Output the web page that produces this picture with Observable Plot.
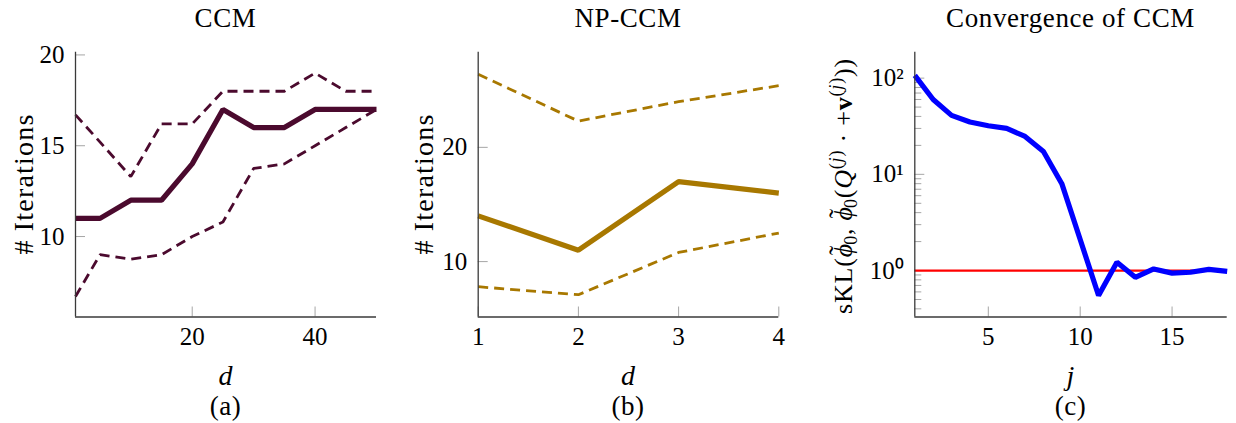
<!DOCTYPE html>
<html>
<head>
<meta charset="utf-8">
<script src="https://cdn.jsdelivr.net/npm/d3@7"></script>
<script src="https://cdn.jsdelivr.net/npm/@observablehq/plot@0.6"></script>
<style>
html, body { margin: 0; padding: 0; background: #fff; }
#wrap { position: relative; width: 1236px; height: 423px; overflow: hidden; font-family: "Liberation Serif", serif; }
#wrap svg { position: absolute; top: 0; }
</style>
</head>
<body>
<div id="wrap"></div>
<script>
// ---------- Panel (a): CCM ----------
const dA = [1, 5, 10, 15, 20, 25, 30, 35, 40, 45, 50];
const meanA = [11, 11, 12, 12, 14, 17, 16, 16, 17, 17, 17];
const upperA = [16.7, 15.2, 13.3, 16.2, 16.2, 18, 18, 18, 19, 18, 18];
const lowerA = [6.7, 9.0, 8.75, 9.0, 10, 10.8, 13.75, 14, 15, 16, 17];
const xTicksA = [20, 40];
const yTicksA = [10, 15, 20];

// ---------- Panel (b): NP-CCM ----------
const dB = [1, 2, 3, 4];
const meanB = [14, 11, 17, 16];
const upperB = [26.4, 22.3, 24, 25.4];
const lowerB = [7.8, 7.1, 10.8, 12.5];
const xTicksB = [1, 2, 3, 4];
const yTicksB = [10, 20];

// ---------- Panel (c): Convergence of CCM ----------
const jC = [1, 2, 3, 4, 5, 6, 7, 8, 9, 10, 11, 12, 13, 14, 15, 16, 17, 18];
const sklC = [107, 60, 41, 35, 32, 30, 24.8, 17.3, 8, 2.1, 0.55, 1.22, 0.85, 1.04, 0.94, 0.96, 1.03, 0.98];
const thresholdC = [1];
const xTicksC = [5, 10, 15];
const yTicksC = [1, 10, 100];
const yMinorC = [0.4, 0.5, 0.6, 0.7, 0.8, 0.9, 2, 3, 4, 5, 6, 7, 8, 9, 20, 30, 40, 50, 60, 70, 80, 90];

const titles = ["CCM", "NP-CCM", "Convergence of CCM"];
const xLabels = ["d", "d", "j"];
const captions = ["(a)", "(b)", "(c)"];

const colA = "#4b0a2e";
const colB = "#a87800";

const H = 423, TOP = 51.7, BOTTOM = 316.5;
const wrap = document.getElementById("wrap");

function makePanel(cfg) {
  const {left, width, mL, mR, xDomain, yDomain, yType = "linear", xTicks, yTicks, yFormat, minor, lines} = cfg;
  const marks = [
    Plot.axisX(xTicks, {anchor: "bottom", tickSize: 10, dy: -10, fill: "none", stroke: "#a6a6a6", label: null}),
    Plot.axisX(xTicks, {anchor: "bottom", tickSize: 0, tickPadding: 10, stroke: "none", fill: "#000", tickFormat: d => String(d), label: null}),
    Plot.axisY(yTicks, {anchor: "left", tickSize: 10, dx: 10, fill: "none", stroke: "#a6a6a6", label: null}),
  ];
  if (minor) marks.push(Plot.axisY(minor, {anchor: "left", tickSize: 7, dx: 7, fill: "none", stroke: "#a6a6a6", label: null}));
  marks.push(Plot.axisY(yTicks, {anchor: "left", tickSize: 0, tickPadding: 11, stroke: "none", fill: "#000", tickFormat: yFormat, label: null}));
  marks.push(...lines);
  marks.push(Plot.ruleX([xDomain[0]], {stroke: "#3a3a3a", strokeWidth: 1.3}));
  marks.push(Plot.ruleY([yDomain[0]], {stroke: "#3a3a3a", strokeWidth: 1.3}));
  const svg = Plot.plot({
    width, height: H,
    marginLeft: mL, marginRight: mR, marginTop: TOP, marginBottom: H - BOTTOM,
    x: {domain: xDomain, label: null},
    y: {domain: yDomain, type: yType, label: null},
    style: {fontFamily: "'Liberation Serif', serif", fontSize: "25px", color: "#000", background: "transparent", overflow: "visible"},
    marks
  });
  svg.style.left = left + "px";
  wrap.appendChild(svg);
}

const lineOpts = {strokeLinejoin: "miter", strokeLinecap: "butt"};

makePanel({
  left: 0, width: 400, mL: 75, mR: 24,
  xDomain: [1, 50], yDomain: [5.57, 20.15],
  xTicks: xTicksA, yTicks: yTicksA, yFormat: d => String(d),
  lines: [
    Plot.line(dA, {x: dA, y: upperA, stroke: colA, strokeWidth: 2.8, strokeDasharray: "10,6", ...lineOpts}),
    Plot.line(dA, {x: dA, y: lowerA, stroke: colA, strokeWidth: 2.8, strokeDasharray: "10,6", ...lineOpts}),
    Plot.line(dA, {x: dA, y: meanA, stroke: colA, strokeWidth: 5.2, ...lineOpts})
  ]
});

makePanel({
  left: 400, width: 420, mL: 77.7, mR: 41.7,
  xDomain: [1, 4], yDomain: [5.15, 28.33],
  xTicks: xTicksB, yTicks: yTicksB, yFormat: d => String(d),
  lines: [
    Plot.line(dB, {x: dB, y: upperB, stroke: colB, strokeWidth: 2.8, strokeDasharray: "10,6", ...lineOpts}),
    Plot.line(dB, {x: dB, y: lowerB, stroke: colB, strokeWidth: 2.8, strokeDasharray: "10,6", ...lineOpts}),
    Plot.line(dB, {x: dB, y: meanB, stroke: colB, strokeWidth: 5.2, ...lineOpts})
  ]
});

const sup = {"0": "\u2070", "1": "\u00B9", "2": "\u00B2"};
makePanel({
  left: 820, width: 416, mL: 94.3, mR: 9.3,
  xDomain: [1, 18], yDomain: [0.329, 186], yType: "log",
  xTicks: xTicksC, yTicks: yTicksC, minor: yMinorC,
  yFormat: d => "10" + sup[String(Math.round(Math.log10(d)))],
  lines: [
    Plot.ruleY(thresholdC, {stroke: "#ff0000", strokeWidth: 2.2}),
    Plot.line(jC, {x: jC, y: sklC, stroke: "#0000ff", strokeWidth: 5.2, ...lineOpts})
  ]
});

// ---------- Titles, axis labels and captions ----------
const centers = [225.5, 628, 1070.5];
const ov = d3.create("svg").attr("width", 1236).attr("height", H)
  .style("left", "0px").style("pointer-events", "none")
  .attr("font-family", "'Liberation Serif', serif").attr("fill", "#000");

centers.forEach((cx, i) => {
  ov.append("text").attr("x", cx).attr("y", 26.5).attr("text-anchor", "middle").attr("font-size", 27)
    .attr("letter-spacing", 0.6).text(titles[i]);
  ov.append("text").attr("x", cx).attr("y", 385).attr("text-anchor", "middle").attr("font-size", 28).attr("font-style", "italic").text(xLabels[i]);
  ov.append("text").attr("x", cx).attr("y", 415).attr("text-anchor", "middle").attr("font-size", 27).attr("letter-spacing", 0.5).text(captions[i]);
});

// y labels (a) and (b)
[[33, 184], [433, 184]].forEach(([x, y]) => {
  ov.append("text").attr("transform", `translate(${x},${y}) rotate(-90)`).attr("text-anchor", "middle")
    .attr("font-size", 28).attr("letter-spacing", 1.2).text("# Iterations");
});

// y label (c): sKL(φ̃0, φ̃0(Q^(j) · +v^(j)))
const yl = ov.append("text").attr("transform", "translate(852,186) rotate(-90)").attr("text-anchor", "middle")
  .attr("font-size", 26).attr("letter-spacing", 0.8);
const parts = [
  {t: "sKL("},
  {t: "\u03D5", it: true},
  {t: "\u02DC", tilde: true},
  {t: "0", sub: true},
  {t: ", "},
  {t: "\u03D5", it: true},
  {t: "\u02DC", tilde: true},
  {t: "0", sub: true},
  {t: "("},
  {t: "Q", it: true},
  {t: "(", sup: true}, {t: "j", sup: true, it: true}, {t: ")", sup: true},
  {t: " \u00B7 +"},
  {t: "v", bold: true},
  {t: "(", sup: true}, {t: "j", sup: true, it: true}, {t: ")", sup: true},
  {t: "))"}
];
let shift = 0;
parts.forEach(p => {
  const target = p.sub ? 5 : p.sup ? -10 : p.tilde ? -4 : 0;
  const ts = yl.append("tspan").text(p.t);
  if (target !== shift) { ts.attr("dy", target - shift); shift = target; }
  if (p.sub || p.sup) ts.attr("font-size", 18);
  if (p.it) ts.attr("font-style", "italic");
  if (p.bold) ts.attr("font-weight", "bold");
  if (p.tilde) ts.attr("dx", -12).attr("font-size", 28);
  if (p.sub && parts[parts.indexOf(p) - 1].tilde) ts.attr("dx", 0);
});

wrap.appendChild(ov.node());
</script>
</body>
</html>
